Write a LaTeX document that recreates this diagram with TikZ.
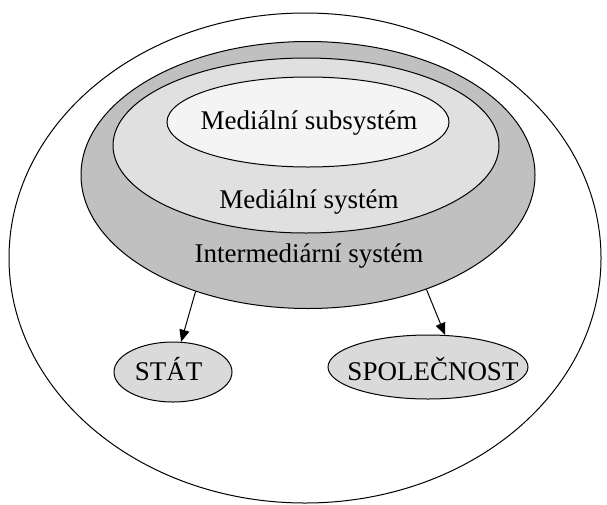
\documentclass[tikz,border=0pt]{standalone}
\usepackage{fontspec}
\setmainfont{Liberation Serif}
\usetikzlibrary{shapes.geometric,arrows.meta}
\definecolor{intergray}{RGB}{192,192,192}
\definecolor{medgray}{RGB}{224,224,224}
\definecolor{subgray}{RGB}{244,244,244}
\definecolor{leafgray}{RGB}{218,218,218}
\begin{document}
\begin{tikzpicture}[x=1pt,y=-1pt,
	every node/.style={font=\fontsize{27}{32}\selectfont},
	oval/.style={ellipse,draw,line width=1pt,inner sep=0pt},
	lbl/.style={anchor=base,inner sep=0pt},
	link/.style={line width=1pt,-{Triangle[length=12pt,width=10pt]}}]
	\useasboundingbox (0,0) rectangle (607,504);
	% nested ovals
	\node[oval,minimum width=592pt,minimum height=490pt] (okoli) at (305,258) {};
	\node[oval,fill=intergray,minimum width=454pt,minimum height=267pt] (inter) at (308,175) {};
	\node[oval,fill=medgray,minimum width=386pt,minimum height=175pt] (medsys) at (306,145.5) {};
	\node[oval,fill=subgray,minimum width=282pt,minimum height=90pt] (medsub) at (308,122) {};
	\node[lbl] (tsub) at (309,129) {Mediální subsystém};
	\node[lbl] (tsys) at (309,208) {Mediální systém};
	\node[lbl] (tinter) at (309,262) {Intermediární systém};
	% state and society
	\node[oval,fill=leafgray,minimum width=118pt,minimum height=60pt] (stat) at (173,372) {};
	\node[oval,fill=leafgray,minimum width=200pt,minimum height=64pt] (spol) at (428,367) {};
	\node[lbl] (tstat) at (168.5,380) {STÁT};
	\node[lbl] (tspol) at (433,380) {SPOLEČNOST};
	\draw[link] (inter.226) -- (stat.75);
	\draw[link] (inter.-44) -- (spol.62);
\end{tikzpicture}
\end{document}
